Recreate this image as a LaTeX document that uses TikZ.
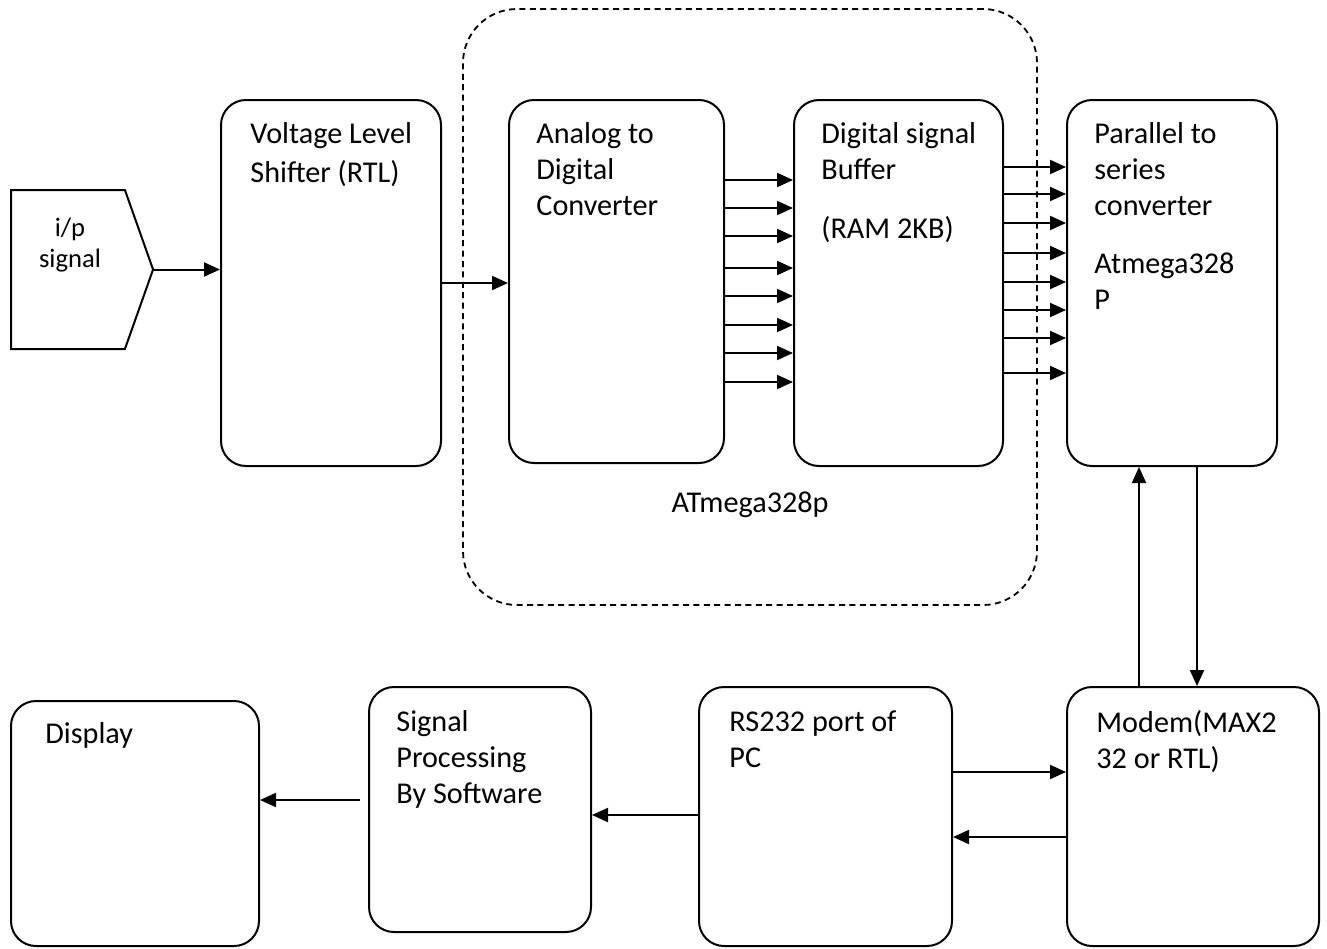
\documentclass[tikz,border=0pt]{standalone}
\usepackage{fontspec}
\setmainfont{Carlito}
\usetikzlibrary{shapes.symbols,arrows.meta,calc,positioning}

\tikzset{
  blk/.style 2 args={draw,line width=1pt,rounded corners=12.5pt,minimum width=#1*0.5pt,minimum height=#2*0.5pt,inner sep=0pt},
  txt/.style={anchor=north west,inner sep=0pt,align=left,font=\fontsize{15.1}{18}\selectfont},
  arr/.style={line width=1pt,-{Triangle[length=8pt,width=7pt]}},
}

\begin{document}
\begin{tikzpicture}[x=0.5pt,y=-0.5pt]
\useasboundingbox (0,0) rectangle (1327,948);

% microcontroller region
\node[draw,dash pattern=on 3pt off 2.2pt,line width=0.9pt,rounded corners=27pt,minimum width=287pt,minimum height=298pt] (mcu) at (750,307) {};
\node[anchor=base,inner sep=0pt,font=\fontsize{15.1}{18}\selectfont] (mcuLbl) at ([shift={(0,-93)}]mcu.south) {ATmega328p};

\node[draw,line width=1pt,signal,signal to=east,signal pointer angle=141,minimum width=71pt,minimum height=79.5pt,inner sep=0pt] (inSig) at (68,269.5) {};
\node[anchor=north,inner sep=0pt,align=center,font=\fontsize{13.3}{15.5}\selectfont] (inTxt) at (70,218) {i/p\\signal};

\node[blk={220}{366}] (vls) at (331,283) {};
\node[blk={215}{363}] (adc) at (616.5,281.5) {};
\node[blk={209}{366}] (buf) at (898.5,283) {};
\node[blk={210}{366}] (pts) at (1172,283) {};

\node[blk={248}{245}] (disp) at (135,823.5) {};
\node[blk={222}{245}] (sp) at (480,809.5) {};
\node[blk={253}{259}] (rs) at (825.5,816.5) {};
\node[blk={252}{259}] (modem) at (1193,816.5) {};

\node[txt] (vlsTxt) at ([shift={(30,23)}]vls.north west) {Voltage Level\\[1.5pt]Shifter (RTL)};
\node[txt] (adcTxt) at ([shift={(28,23)}]adc.north west) {Analog to\\Digital\\Converter};
\node[txt] (bufTxt) at ([shift={(28,23)}]buf.north west) {Digital signal\\Buffer\\[11.5pt](RAM 2KB)};
\node[txt] (ptsTxt) at ([shift={(28,23)}]pts.north west) {Parallel to\\series\\converter\\[11pt]Atmega328\\P};
\node[txt] (dispTxt) at ([shift={(35,22)}]disp.north west) {Display};
\node[txt] (spTxt) at ([shift={(28,24)}]sp.north west) {Signal\\Processing\\By Software};
\node[txt] (rsTxt) at ([shift={(31,24)}]rs.north west) {RS232 port of\\PC};
\node[txt] (modemTxt) at ([shift={(30,24)}]modem.north west) {Modem(MAX2\\32 or RTL)};

\draw[arr] (inSig.east) -- (inSig.east -| vls.west);
\draw[arr] (vls.east) -- (vls.east -| adc.west);
\foreach \y in {180,208,236,268,296,325,353,382}
  \draw[arr] (adc.east |- 0,\y) -- (buf.west |- 0,\y);
\foreach \y in {167,194,223,253,282,310,338,373}
  \draw[arr] (buf.east |- 0,\y) -- (pts.west |- 0,\y);

\draw[arr] (modem.north -| 1139,0) -- (pts.south -| 1139,0);
\draw[arr] (pts.south -| 1197,0) -- (modem.north -| 1197,0);
\draw[arr] (rs.east |- 0,772) -- (modem.west |- 0,772);
\draw[arr] (modem.west |- 0,837) -- (rs.east |- 0,837);
\draw[arr] (rs.west |- 0,815) -- (sp.east |- 0,815);
\draw[arr] ($(sp.west |- 0,800)+(-8,0)$) -- (disp.east |- 0,800);

\end{tikzpicture}
\end{document}
